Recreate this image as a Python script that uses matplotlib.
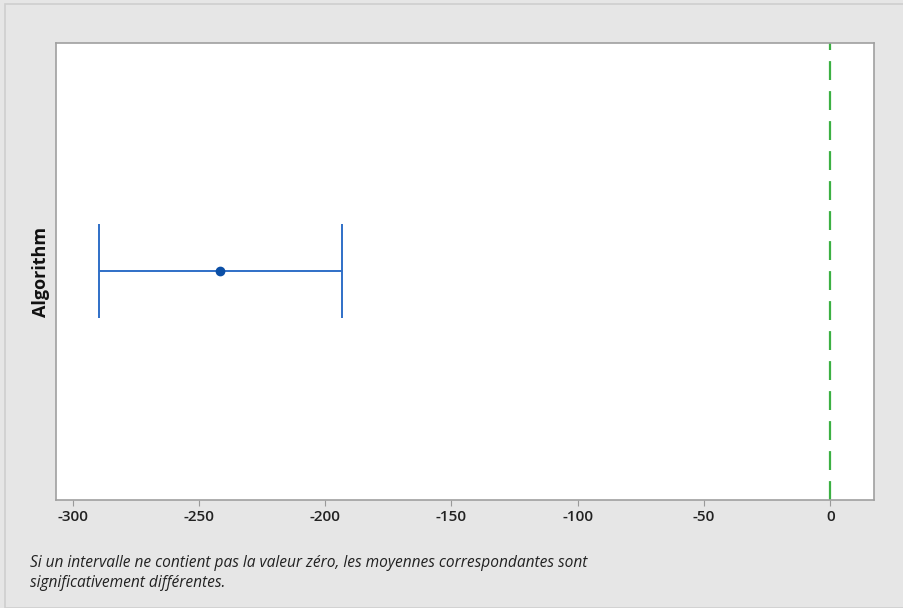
import matplotlib.pyplot as plt
from matplotlib.patches import Rectangle

# difference of means with its confidence interval
group = "Algorithm"
mean_diff = -241.5
ci_low = -289.6
ci_high = -193.4
xticks = [-300, -250, -200, -150, -100, -50, 0]
note = ("Si un intervalle ne contient pas la valeur zéro, les moyennes correspondantes sont\n"
        "significativement différentes.")

plt.rcParams['font.family'] = ['Open Sans', 'DejaVu Sans']

fig = plt.figure(figsize=(9.04, 6.08), dpi=100)
fig.patch.set_facecolor('#e6e6e6')
fig.patches.append(Rectangle((5 / 904, 0), 1, 1 - 4 / 608, transform=fig.transFigure,
                             facecolor='none', edgecolor='#cfcfcf', lw=1.2))

ax = fig.add_axes([56 / 904, 1 - 500 / 608, (874 - 56) / 904, (500 - 43) / 608])
ax.set_facecolor('white')

ax.errorbar([mean_diff], [0.5], xerr=[[mean_diff - ci_low], [ci_high - mean_diff]],
            fmt='o', color='#0b4fa6', ecolor='#2f6fc7', elinewidth=1.4,
            capsize=34, capthick=1.4, markersize=6)
ax.axvline(0, color='#3cb043', lw=1.6, dashes=(8.5, 5))

ax.set_xlim(-306.6, 17.3)
ax.set_ylim(0, 1)
ax.set_xticks(xticks)
ax.set_xticklabels([str(t) for t in xticks], fontsize=11, fontweight='semibold', color='#222222')
ax.set_yticks([])
ax.tick_params(axis='x', length=4, color='#999999', pad=3)
for s in ax.spines.values():
    s.set_color('#a0a0a0')
    s.set_linewidth(1.2)

ax.set_ylabel(group, fontsize=13, fontweight='bold', color='#111111', labelpad=4)

fig.text(30 / 904, 1 - 555 / 608, note, fontsize=11.2, style='italic', color='#222222',
         va='top', linespacing=1.35)

fig.savefig('out.png', dpi=100, facecolor=fig.get_facecolor())
